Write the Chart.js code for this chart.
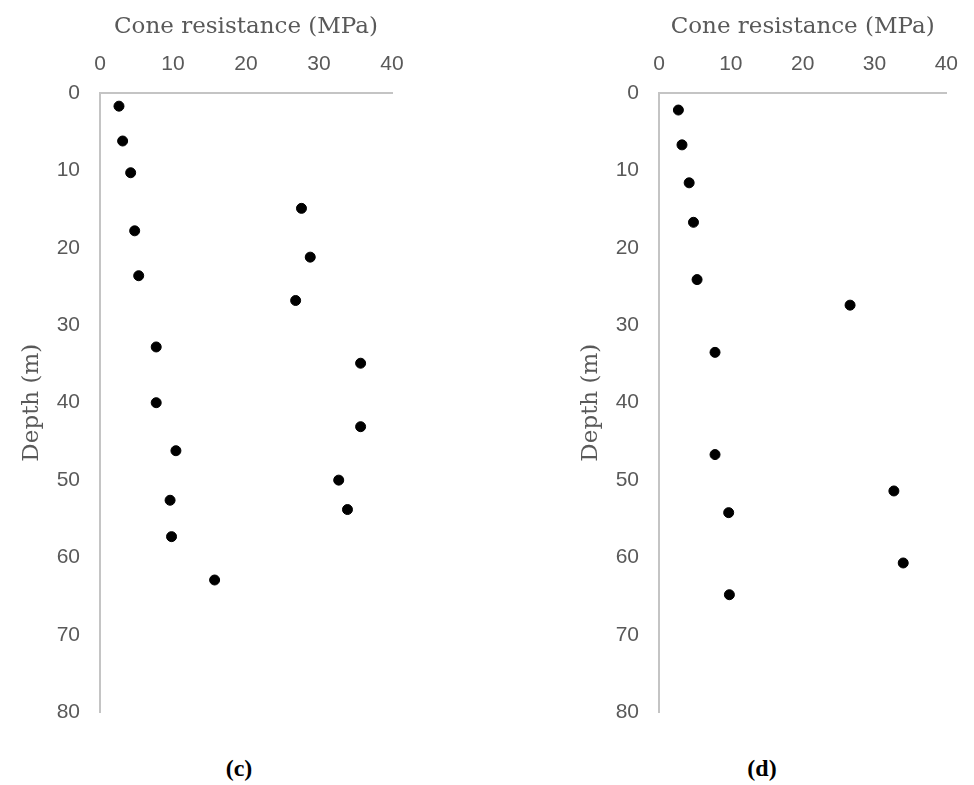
<!DOCTYPE html>
<html>
<head>
<meta charset="utf-8">
<script src="https://cdn.jsdelivr.net/npm/chart.js@4"></script>
<style>
  body { margin: 0; width: 974px; height: 785px; background: #fff; overflow: hidden; position: relative; }
  canvas { position: absolute; top: 0; }
  #chartC { left: 0; }
  #chartD { left: 559px; }
  .cap { position: absolute; top: 755px; width: 60px; text-align: center; font: bold 24px "Liberation Serif", serif; color: #000; }
</style>
</head>
<body>
<canvas id="chartC" width="430" height="745"></canvas>
<canvas id="chartD" width="415" height="745"></canvas>
<div class="cap" style="left:209px">(c)</div>
<div class="cap" style="left:732px">(d)</div>
<script>
var xTicks = [0, 10, 20, 30, 40];
var yTicks = [0, 10, 20, 30, 40, 50, 60, 70, 80];

// (c)
var resistC = [2.6, 3.1, 4.2, 27.6, 4.75, 28.8, 5.3, 26.8, 7.7, 35.7, 7.7, 35.7, 10.4, 32.7, 9.6, 33.9, 9.8, 15.7];
var depthC = [1.7, 6.2, 10.3, 14.9, 17.8, 21.2, 23.6, 26.8, 32.8, 34.9, 40.0, 43.1, 46.2, 50.0, 52.6, 53.8, 57.3, 62.9];

// (d)
var resistD = [2.7, 3.2, 4.2, 4.8, 5.3, 26.6, 7.8, 7.8, 32.7, 9.7, 34.0, 9.8];
var depthD = [2.2, 6.7, 11.6, 16.7, 24.1, 27.4, 33.5, 46.7, 51.4, 54.2, 60.7, 64.8];

var grey = '#595959';
var lineGrey = '#c4c4c4';

function plotarPerfil(id, xs, ys, padRight) {
    var pts = xs.map(function (x, i) { return { x: x, y: ys[i] }; });
    return new Chart(document.getElementById(id), {
        type: 'scatter',
        data: {
            datasets: [{
                data: pts,
                backgroundColor: '#000',
                borderColor: '#000',
                pointRadius: 5,
                pointHoverRadius: 5
            }]
        },
        options: {
            responsive: false,
            animation: false,
            layout: { padding: { left: 0, top: 0, right: padRight, bottom: 32 } },
            plugins: { legend: { display: false }, tooltip: { enabled: false } },
            scales: {
                x: {
                    position: 'top',
                    min: xTicks[0],
                    max: xTicks[xTicks.length - 1],
                    grid: { display: false, drawTicks: false },
                    border: { display: true, color: lineGrey, width: 2 },
                    ticks: { stepSize: xTicks[1] - xTicks[0], color: grey, padding: 16, font: { family: 'Liberation Sans', size: 21 } },
                    title: { display: true, text: 'Cone resistance (MPa)', color: grey, padding: { top: 13, bottom: 0 }, font: { family: 'DejaVu Serif', size: 23 } },
                    afterFit: function (s) { s.height = 93; }
                },
                y: {
                    reverse: true,
                    min: yTicks[0],
                    max: yTicks[yTicks.length - 1],
                    grid: { display: false, drawTicks: false },
                    border: { display: true, color: lineGrey, width: 2 },
                    ticks: { stepSize: yTicks[1] - yTicks[0], color: grey, padding: 20, font: { family: 'Liberation Sans', size: 21 } },
                    title: { display: true, text: 'Depth (m)', color: grey, padding: { top: 18, bottom: 0 }, font: { family: 'DejaVu Serif', size: 23 } },
                    afterFit: function (s) { s.width = 100; }
                }
            }
        }
    });
}

window.chartC = plotarPerfil('chartC', resistC, depthC, 38);
window.chartD = plotarPerfil('chartD', resistD, depthD, 24);
</script>
</body>
</html>
